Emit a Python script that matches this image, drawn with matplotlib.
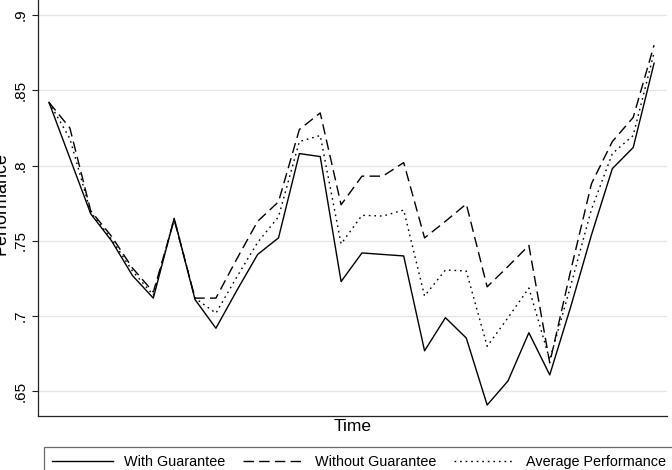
import matplotlib
matplotlib.use("Agg")
import matplotlib.pyplot as plt

# performance over time
time = list(range(1, 31))
with_guarantee = [0.842, 0.805, 0.768, 0.750, 0.727, 0.712, 0.765, 0.711, 0.692, 0.717,
                  0.741, 0.752, 0.808, 0.806, 0.723, 0.742, 0.741, 0.740, 0.677, 0.699,
                  0.6855, 0.641, 0.657, 0.689, 0.661, 0.706, 0.754, 0.798, 0.812, 0.868]
without_guarantee = [0.842, 0.825, 0.770, 0.753, 0.732, 0.716, 0.764, 0.712, 0.712, 0.738,
                     0.763, 0.776, 0.824, 0.835, 0.774, 0.793, 0.793, 0.802, 0.752, 0.763,
                     0.7745, 0.7195, 0.733, 0.747, 0.669, 0.730, 0.788, 0.816, 0.832, 0.880]
average_perf = [0.842, 0.818, 0.769, 0.751, 0.730, 0.714, 0.765, 0.712, 0.702, 0.726,
                0.749, 0.766, 0.816, 0.820, 0.748, 0.767, 0.7665, 0.7705, 0.7134, 0.7307,
                0.730, 0.680, 0.699, 0.7187, 0.671, 0.720, 0.771, 0.808, 0.820, 0.875]
yticks = [0.65, 0.7, 0.75, 0.8, 0.85, 0.9]
yticklabels = ['.65', '.7', '.75', '.8', '.85', '.9']

plt.rcParams['font.family'] = ['Liberation Sans', 'DejaVu Sans']

fig = plt.figure(figsize=(6.72, 4.70), dpi=100)
ax = fig.add_axes([38 / 672, 54 / 470, 629 / 672, 416 / 470])

ax.plot(time, with_guarantee, color='black', linewidth=1.0, label='With Guarantee')
ax.plot(time, without_guarantee, color='black', linewidth=1.0, dashes=(7.5, 3.8),
        label='Without Guarantee')
ax.plot(time, average_perf, color='black', linewidth=1.0, dashes=(1.2, 2.8),
        label='Average Performance')

ax.set_xlim(0.473, 30.62)
ax.set_ylim(0.6337, 0.91)
ax.set_yticks(yticks)
ax.set_yticklabels(yticklabels, rotation=90, va='center', fontsize=11)
ax.set_xticks([])
ax.tick_params(axis='y', length=4.5, width=0.8, pad=3, color='#222222')
ax.grid(axis='y', color='#e6e6e6', linewidth=1.0)
ax.set_axisbelow(True)
for side in ('top', 'right'):
    ax.spines[side].set_visible(False)
for side in ('left', 'bottom'):
    ax.spines[side].set_color('#222222')
    ax.spines[side].set_linewidth(0.9)

ax.set_xlabel('Time', fontsize=12.5, labelpad=2)
ax.set_ylabel('Performance', fontsize=13)
ax.yaxis.set_label_coords(-0.046, 0.51)

leg = fig.legend(loc='upper left', bbox_to_anchor=(44 / 672, 1 - 447 / 470), ncol=3,
                 fontsize=10.4, handlelength=4.2, handletextpad=0.8, columnspacing=1.2,
                 borderpad=0.55, borderaxespad=0, fancybox=False, frameon=True)
leg.get_frame().set_edgecolor('#444444')
leg.get_frame().set_linewidth(0.9)

fig.savefig('out.png', dpi=100)
